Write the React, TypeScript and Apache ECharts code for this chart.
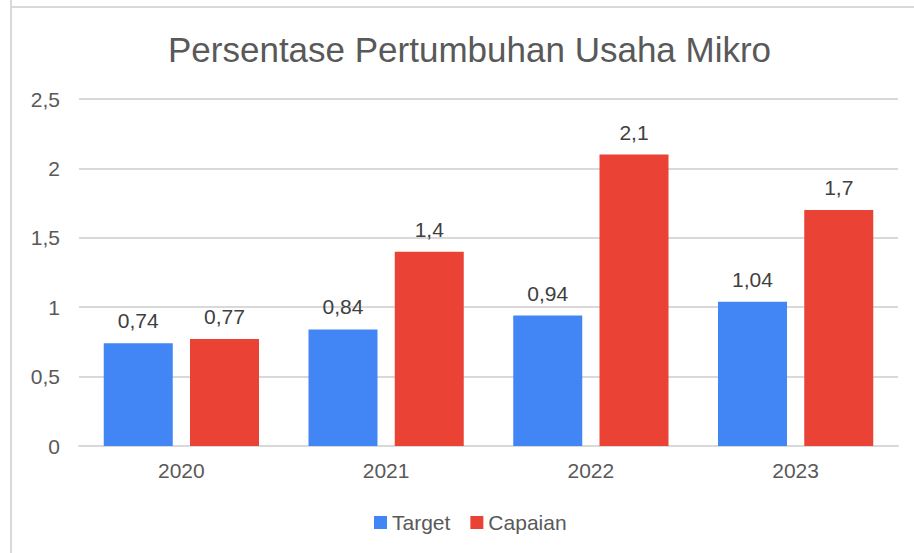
import React, { useEffect, useRef } from "react";
import * as echarts from "echarts";

const categories = ["2020", "2021", "2022", "2023"];
const targetValues = [0.74, 0.84, 0.94, 1.04];
const capaianValues = [0.77, 1.4, 2.1, 1.7];
const seriesNames = ["Target", "Capaian"];
const titleText = "Persentase Pertumbuhan Usaha Mikro";

const FONT = "'Liberation Sans', Arial, sans-serif";
const TXT = "#595959";
const comma = (v: number) => String(v).replace(".", ",");

export default function App() {
  const ref = useRef<HTMLDivElement>(null);
  useEffect(() => {
    document.body.style.margin = "0";
    const chart = echarts.init(ref.current!, null, { renderer: "svg" });
    chart.setOption({
      animation: false,
      backgroundColor: "#ffffff",
      textStyle: { fontFamily: FONT },
      title: {
        text: titleText,
        left: 163,
        top: 27,
        textStyle: { fontFamily: FONT, fontSize: 35, fontWeight: "normal", color: TXT },
      },
      graphic: [
        { type: "line", shape: { x1: 11, y1: 0, x2: 11, y2: 553 }, style: { stroke: "#d9d9d9", lineWidth: 2 } },
        { type: "line", shape: { x1: 11, y1: 7, x2: 914, y2: 7 }, style: { stroke: "#d9d9d9", lineWidth: 2 } },
      ],
      legend: {
        left: 369,
        top: 507,
        itemWidth: 13,
        itemHeight: 13,
        itemGap: 20,
        icon: "rect",
        textStyle: { fontFamily: FONT, fontSize: 21, color: TXT },
        data: seriesNames,
      },
      grid: { left: 79, right: 16, top: 99, bottom: 107 },
      xAxis: {
        type: "category",
        data: categories,
        axisTick: { show: false },
        axisLine: { lineStyle: { color: "#d9d9d9", width: 2 } },
        axisLabel: { fontFamily: FONT, fontSize: 21, color: TXT, margin: 14 },
      },
      yAxis: {
        type: "value",
        min: 0,
        max: 2.5,
        interval: 0.5,
        axisLabel: { fontFamily: FONT, fontSize: 21, color: TXT, margin: 19, formatter: comma },
        splitLine: { lineStyle: { color: "#d9d9d9", width: 2 } },
      },
      series: [
        {
          name: seriesNames[0],
          type: "bar",
          data: targetValues,
          barWidth: "33.7%",
          barGap: "25%",
          itemStyle: { color: "#4285F4" },
          label: { show: true, position: "top", distance: 12, fontFamily: FONT, fontSize: 21, color: "#404040", formatter: (p: any) => comma(p.value) },
        },
        {
          name: seriesNames[1],
          type: "bar",
          data: capaianValues,
          barWidth: "33.7%",
          barGap: "25%",
          itemStyle: { color: "#EA4335" },
          label: { show: true, position: "top", distance: 12, fontFamily: FONT, fontSize: 21, color: "#404040", formatter: (p: any) => comma(p.value) },
        },
      ],
    });
    return () => chart.dispose();
  }, []);
  return <div ref={ref} style={{ width: 914, height: 553 }} />;
}
